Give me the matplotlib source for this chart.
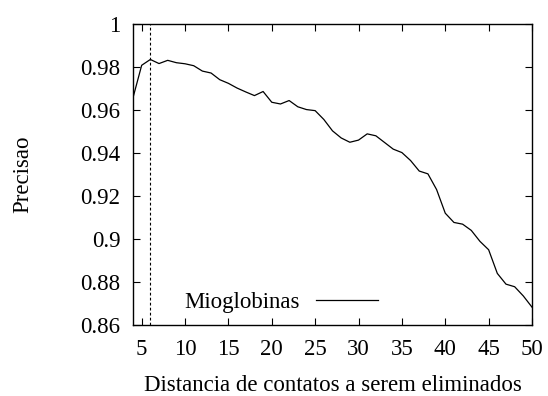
import matplotlib
matplotlib.use("Agg")
import matplotlib.pyplot as plt

x_values = list(range(4, 51))
precisao = [0.9657, 0.9808, 0.9835, 0.9816, 0.9831, 0.9820, 0.9815, 0.9806, 0.9781, 0.9772,
            0.9741, 0.9724, 0.9702, 0.9684, 0.9667, 0.9686, 0.9636, 0.9628, 0.9644, 0.9615,
            0.9602, 0.9597, 0.9556, 0.9503, 0.9470, 0.9450, 0.9460, 0.9489, 0.9480, 0.9449,
            0.9418, 0.9402, 0.9365, 0.9316, 0.9303, 0.9230, 0.9120, 0.9077, 0.9069, 0.9040,
            0.8989, 0.8950, 0.8840, 0.8790, 0.8778, 0.8735, 0.8683]
series_label = "Mioglobinas"
cutoff = 6
x_ticks = [5, 10, 15, 20, 25, 30, 35, 40, 45, 50]
y_ticks = [0.86, 0.88, 0.9, 0.92, 0.94, 0.96, 0.98, 1.0]
y_tick_labels = ["0.86", "0.88", "0.9", "0.92", "0.94", "0.96", "0.98", "1"]

FS = 16.5
plt.rcParams['font.family'] = ['Liberation Serif', 'DejaVu Serif']
plt.rcParams['font.size'] = FS

fig = plt.figure(figsize=(5.48, 3.96), dpi=100)
ax = fig.add_axes([133/548, 1-325/396, (532-133)/548, (325-24)/396])

ax.plot(x_values, precisao, color='black', lw=0.9, label=series_label)
ax.axvline(cutoff, color='black', lw=0.8, linestyle=(0, (2.5, 2)))

ax.set_xlim(4, 50)
ax.set_ylim(0.86, 1.0)
ax.set_xticks(x_ticks)
ax.set_yticks(y_ticks)
ax.set_yticklabels(y_tick_labels)
ax.tick_params(direction='in', length=5, width=0.8, top=True, right=True, labelsize=FS)
ax.tick_params(axis='x', pad=10)
ax.tick_params(axis='y', pad=9)
for s in ax.spines.values():
    s.set_linewidth(1.0)

ax.set_xlabel("Distancia de contatos a serem eliminados", fontsize=FS, labelpad=11)
ax.yaxis.set_label_coords(-(133 - 23) / 399, 0.5)
ax.set_ylabel("Precisao", fontsize=FS, va='center')

leg = ax.legend(loc='lower left', bbox_to_anchor=(0.077, -0.03), frameon=False,
                markerfirst=False, handlelength=2.7, handletextpad=0.7, fontsize=FS)

fig.savefig("out.png", dpi=100)
